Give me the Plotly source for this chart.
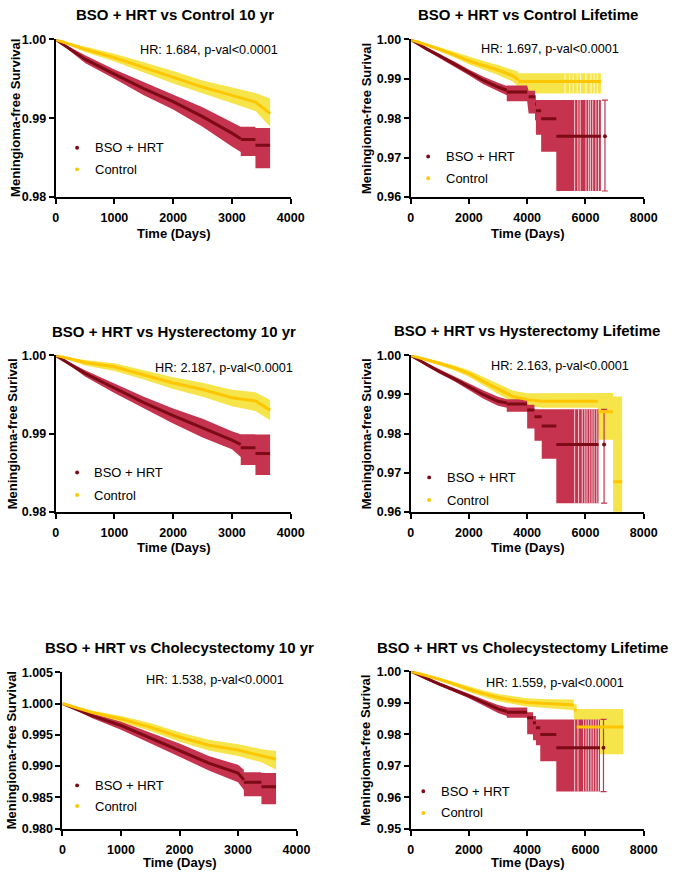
import plotly.graph_objects as go

W, H = 685, 878
FONT = "Liberation Sans, Arial, Helvetica, sans-serif"

# ---------------- text ----------------
titles = ["BSO + HRT vs Control 10 yr", "BSO + HRT vs Control Lifetime",
          "BSO + HRT vs Hysterectomy 10 yr", "BSO + HRT vs Hysterectomy Lifetime",
          "BSO + HRT vs Cholecystectomy 10 yr", "BSO + HRT vs Cholecystectomy Lifetime"]
hr_labels = ["HR: 1.684, p-val<0.0001", "HR: 1.697, p-val<0.0001",
             "HR: 2.187, p-val<0.0001", "HR: 2.163, p-val<0.0001",
             "HR: 1.538, p-val<0.0001", "HR: 1.559, p-val<0.0001"]
y_titles = ["Meningioma-free Survival", "Meningioma-free Surival",
            "Meningioma-free Surival", "Meningioma-free Surival",
            "Meningioma-free Survival", "Meningioma-free Surival"]
x_title = "Time (Days)"
group_names = ["BSO + HRT", "Control"]

x_ranges = [[0, 4000], [0, 8000], [0, 4000], [0, 8000], [0, 4000], [0, 8000]]
x_dticks = [1000, 2000, 1000, 2000, 1000, 2000]
y_ranges = [[0.98, 1.0], [0.96, 1.0], [0.98, 1.0], [0.96, 1.0], [0.98, 1.005], [0.95, 1.0]]
y_dticks = [0.01, 0.01, 0.01, 0.01, 0.005, 0.01]
y_formats = [".2f", ".2f", ".2f", ".2f", ".3f", ".2f"]

# ---------------- data ----------------
# Panel 1: Control 10 yr
p1_bso_t = [0, 500, 1000, 1500, 2000, 2500, 3000, 3150]
p1_bso_s = [1.0, 0.9975, 0.9956, 0.99375, 0.9921, 0.9902, 0.9881, 0.9874]
p1_bso_lo = [1.0, 0.9970, 0.9950, 0.9929, 0.9911, 0.9889, 0.9864, 0.9857]
p1_bso_hi = [1.0, 0.9980, 0.9962, 0.9946, 0.9930, 0.9914, 0.9895, 0.9890]
p1_bso_st0 = [3150, 3400]
p1_bso_st1 = [3400, 3650]
p1_bso_ss = [0.9873, 0.98655]
p1_bso_slo = [0.9852, 0.98365]
p1_bso_shi = [0.9889, 0.98875]
p1_ctl_t = [0, 500, 1000, 1500, 2000, 2500, 3000, 3400, 3650]
p1_ctl_s = [1.0, 0.99875, 0.9977, 0.99645, 0.9952, 0.99395, 0.9929, 0.99205, 0.9906]
p1_ctl_lo = [1.0, 0.9984, 0.9972, 0.9958, 0.9944, 0.9931, 0.9919, 0.9909, 0.9889]
p1_ctl_hi = [1.0, 0.9991, 0.9982, 0.9971, 0.9960, 0.9948, 0.9939, 0.9932, 0.9925]

# Panel 2: Control Lifetime
p2_bso_t = [0, 500, 1000, 1500, 2000, 2500, 3000, 3300]
p2_bso_s = [1.0, 0.9978, 0.99583, 0.9938, 0.99167, 0.98958, 0.98792, 0.9871]
p2_bso_lo = [1.0, 0.9974, 0.9953, 0.9931, 0.9909, 0.9886, 0.9868, 0.9858]
p2_bso_hi = [1.0, 0.9982, 0.9963, 0.9944, 0.9924, 0.9905, 0.9890, 0.9882]
p2_bso_st0 = [3300, 4050, 4270, 4300, 4480, 5000]
p2_bso_st1 = [4000, 4270, 4300, 4480, 5000, 6530]
p2_bso_ss = [0.98667, 0.98542, 0.9836, 0.98192, 0.97983, 0.97542]
p2_bso_slo = [0.9843, 0.9812, 0.9795, 0.9758, 0.9715, 0.9615]
p2_bso_shi = [0.9883, 0.9870, 0.9858, 0.9846, 0.9846, 0.9846]
p2_bso_cens = [5630, 5740, 5820, 6020, 6110, 6170, 6250, 6360, 6450]
p2_bso_end = [6670, 0.97542, 0.9615, 0.9846]
p2_ctl_t = [0, 500, 1000, 1500, 2000, 2500, 3000, 3500, 3700]
p2_ctl_s = [1.0, 0.9988, 0.9975, 0.9961, 0.99458, 0.9934, 0.99225, 0.99083, 0.9897]
p2_ctl_lo = [1.0, 0.9984, 0.9970, 0.9954, 0.9937, 0.9923, 0.9910, 0.9893, 0.9880]
p2_ctl_hi = [1.0, 0.9991, 0.9980, 0.9968, 0.9955, 0.9945, 0.9935, 0.9924, 0.9918]
p2_ctl_st0 = [3700]
p2_ctl_st1 = [6530]
p2_ctl_ss = [0.98933]
p2_ctl_slo = [0.98625]
p2_ctl_shi = [0.99142]
p2_ctl_cens = [5300, 5460, 5580, 5720, 5830, 6020, 6190, 6300, 6410]

# Panel 3: Hysterectomy 10 yr
p3_bso_t = [0, 500, 1000, 1500, 2000, 2500, 3000, 3150]
p3_bso_s = [1.0, 0.9977, 0.99583, 0.99396, 0.99229, 0.99075, 0.98917, 0.9886]
p3_bso_lo = [1.0, 0.9973, 0.9952, 0.9932, 0.9913, 0.9895, 0.9880, 0.9870]
p3_bso_hi = [1.0, 0.9981, 0.9964, 0.9947, 0.9932, 0.9919, 0.9903, 0.9899]
p3_bso_st0 = [3150, 3400]
p3_bso_st1 = [3400, 3650]
p3_bso_ss = [0.9882, 0.98745]
p3_bso_slo = [0.9860, 0.98471]
p3_bso_shi = [0.9899, 0.98987]
p3_ctl_t = [0, 500, 1000, 1500, 2000, 2500, 3000, 3400, 3650]
p3_ctl_s = [1.0, 0.99908, 0.99854, 0.9975, 0.99646, 0.99563, 0.99458, 0.99417, 0.9930]
p3_ctl_lo = [1.0, 0.9987, 0.9980, 0.9969, 0.9957, 0.9947, 0.9935, 0.9929, 0.9917]
p3_ctl_hi = [1.0, 0.9994, 0.9990, 0.9981, 0.9972, 0.9965, 0.9956, 0.9953, 0.9943]

# Panel 4: Hysterectomy Lifetime
p4_bso_t = [0, 500, 1000, 1500, 2000, 2500, 3000, 3300]
p4_bso_s = [1.0, 0.9978, 0.99581, 0.9940, 0.99203, 0.98994, 0.98826, 0.9878]
p4_bso_lo = [1.0, 0.9974, 0.9953, 0.9934, 0.9912, 0.9889, 0.9871, 0.9866]
p4_bso_hi = [1.0, 0.9982, 0.9963, 0.9946, 0.9928, 0.9910, 0.9894, 0.9888]
p4_bso_st0 = [3300, 4000, 4250, 4500, 5000]
p4_bso_st1 = [4000, 4250, 4500, 5000, 6450]
p4_bso_ss = [0.98759, 0.9860, 0.98432, 0.98197, 0.97719]
p4_bso_slo = [0.9856, 0.9813, 0.9782, 0.9736, 0.9622]
p4_bso_shi = [0.9888, 0.9874, 0.9862, 0.9862, 0.9862]
p4_bso_cens = [5630, 5765, 5890, 5980, 6055, 6145, 6225, 6300, 6390]
p4_bso_end = [6640, 0.97719, 0.9622, 0.9862]
p4_ctl_t = [0, 500, 1000, 1500, 2000, 2500, 3000, 3500, 4000, 4500]
p4_ctl_s = [1.0, 0.9990, 0.9979, 0.9968, 0.99539, 0.99329, 0.99136, 0.98952, 0.98868, 0.98826]
p4_ctl_lo = [1.0, 0.9986, 0.9974, 0.9961, 0.9945, 0.9922, 0.9901, 0.9881, 0.9871, 0.9866]
p4_ctl_hi = [1.0, 0.9993, 0.9984, 0.9974, 0.9962, 0.9944, 0.9926, 0.9910, 0.9903, 0.9903]
p4_ctl_st0 = [4500, 6450, 6950]
p4_ctl_st1 = [6420, 6950, 7260]
p4_ctl_ss = [0.98826, 0.98558, 0.96771]
p4_ctl_slo = [0.9866, 0.97845, 0.955]
p4_ctl_shi = [0.9904, 0.9904, 0.9895]

# Panel 5: Cholecystectomy 10 yr
p5_bso_t = [0, 500, 1000, 1500, 2000, 2500, 3000, 3100]
p5_bso_s = [1.0, 0.99806, 0.99649, 0.9945, 0.99256, 0.99046, 0.98889, 0.9878]
p5_bso_lo = [1.0, 0.9977, 0.9958, 0.9937, 0.9915, 0.9893, 0.9874, 0.9862]
p5_bso_hi = [1.0, 0.9984, 0.9971, 0.9953, 0.9936, 0.9916, 0.9902, 0.9894]
p5_bso_st0 = [3100, 3400]
p5_bso_st1 = [3400, 3650]
p5_bso_ss = [0.98742, 0.98669]
p5_bso_slo = [0.9852, 0.9839]
p5_bso_shi = [0.9890, 0.98889]
p5_ctl_t = [0, 500, 1000, 1500, 2000, 2500, 3000, 3400, 3650]
p5_ctl_s = [1.0, 0.99858, 0.99754, 0.99623, 0.99465, 0.99334, 0.99256, 0.99167, 0.99109]
p5_ctl_lo = [1.0, 0.9982, 0.9970, 0.9956, 0.9939, 0.9925, 0.9916, 0.9906, 0.9894]
p5_ctl_hi = [1.0, 0.9989, 0.9980, 0.9969, 0.9954, 0.9942, 0.9935, 0.9927, 0.9924]

# Panel 6: Cholecystectomy Lifetime
p6_bso_t = [0, 500, 1000, 1500, 2000, 2500, 3000, 3300]
p6_bso_s = [1.0, 0.9978, 0.99583, 0.9940, 0.99219, 0.9901, 0.98802, 0.9872]
p6_bso_lo = [1.0, 0.9974, 0.9953, 0.9934, 0.9914, 0.9891, 0.9867, 0.9858]
p6_bso_hi = [1.0, 0.9982, 0.9963, 0.9946, 0.9929, 0.9911, 0.9893, 0.9886]
p6_bso_st0 = [3300, 4000, 4200, 4300, 4450, 5000]
p6_bso_st1 = [4000, 4200, 4300, 4450, 5000, 6500]
p6_bso_ss = [0.98698, 0.98521, 0.98365, 0.98208, 0.97990, 0.97573]
p6_bso_slo = [0.9852, 0.9800, 0.9781, 0.9765, 0.9714, 0.9618]
p6_bso_shi = [0.9885, 0.9870, 0.9858, 0.9847, 0.9847, 0.9847]
p6_bso_cens = [5630, 5745, 5935, 6020, 6100, 6190, 6270, 6360, 6445]
p6_bso_end = [6620, 0.97573, 0.9618, 0.9847]
p6_ctl_t = [0, 500, 1000, 1500, 2000, 2500, 3000, 3500, 4000, 4500, 5000, 5600]
p6_ctl_s = [1.0, 0.9988, 0.9974, 0.9959, 0.99427, 0.9929, 0.99167, 0.9908, 0.9901, 0.9898, 0.98958, 0.9893]
p6_ctl_lo = [1.0, 0.9985, 0.9969, 0.9952, 0.9934, 0.9919, 0.9905, 0.9896, 0.9888, 0.9884, 0.9881, 0.9876]
p6_ctl_hi = [1.0, 0.9991, 0.9979, 0.9966, 0.9951, 0.9939, 0.9928, 0.9920, 0.9914, 0.9912, 0.9911, 0.9910]
p6_ctl_st0 = [5600, 5700]
p6_ctl_st1 = [5700, 7300]
p6_ctl_ss = [0.98771, 0.98229]
p6_ctl_slo = [0.9840, 0.97365]
p6_ctl_shi = [0.9895, 0.9880]

E = []
panels = [
    dict(bso=(p1_bso_t, p1_bso_s, p1_bso_lo, p1_bso_hi, p1_bso_st0, p1_bso_st1, p1_bso_ss, p1_bso_slo, p1_bso_shi, E, None),
         ctl=(p1_ctl_t, p1_ctl_s, p1_ctl_lo, p1_ctl_hi, E, E, E, E, E, E, None)),
    dict(bso=(p2_bso_t, p2_bso_s, p2_bso_lo, p2_bso_hi, p2_bso_st0, p2_bso_st1, p2_bso_ss, p2_bso_slo, p2_bso_shi, p2_bso_cens, p2_bso_end),
         ctl=(p2_ctl_t, p2_ctl_s, p2_ctl_lo, p2_ctl_hi, p2_ctl_st0, p2_ctl_st1, p2_ctl_ss, p2_ctl_slo, p2_ctl_shi, p2_ctl_cens, None)),
    dict(bso=(p3_bso_t, p3_bso_s, p3_bso_lo, p3_bso_hi, p3_bso_st0, p3_bso_st1, p3_bso_ss, p3_bso_slo, p3_bso_shi, E, None),
         ctl=(p3_ctl_t, p3_ctl_s, p3_ctl_lo, p3_ctl_hi, E, E, E, E, E, E, None)),
    dict(bso=(p4_bso_t, p4_bso_s, p4_bso_lo, p4_bso_hi, p4_bso_st0, p4_bso_st1, p4_bso_ss, p4_bso_slo, p4_bso_shi, p4_bso_cens, p4_bso_end),
         ctl=(p4_ctl_t, p4_ctl_s, p4_ctl_lo, p4_ctl_hi, p4_ctl_st0, p4_ctl_st1, p4_ctl_ss, p4_ctl_slo, p4_ctl_shi, E, None)),
    dict(bso=(p5_bso_t, p5_bso_s, p5_bso_lo, p5_bso_hi, p5_bso_st0, p5_bso_st1, p5_bso_ss, p5_bso_slo, p5_bso_shi, E, None),
         ctl=(p5_ctl_t, p5_ctl_s, p5_ctl_lo, p5_ctl_hi, E, E, E, E, E, E, None)),
    dict(bso=(p6_bso_t, p6_bso_s, p6_bso_lo, p6_bso_hi, p6_bso_st0, p6_bso_st1, p6_bso_ss, p6_bso_slo, p6_bso_shi, p6_bso_cens, p6_bso_end),
         ctl=(p6_ctl_t, p6_ctl_s, p6_ctl_lo, p6_ctl_hi, p6_ctl_st0, p6_ctl_st1, p6_ctl_ss, p6_ctl_slo, p6_ctl_shi, E, None)),
]

# ---------------- layout geometry (pixels) ----------------
boxes = [(54, 295, 33, 193), (418, 657, 33, 193), (54, 295, 354, 513),
         (418, 657, 354, 513), (61, 301, 676, 835), (418, 657, 675, 835)]
title_pos = [(176, 8), (538, 8), (175, 330), (537, 329), (181, 651), (533, 651)]
hr_pos = [(211, 44), (561, 43), (227, 367), (571, 365), (217, 684), (566, 687)]
legend_pos = [(76, 92, 143, 165), (436, 452, 152, 174), (76, 91, 473, 496),
              (437, 453, 478, 501), (76, 92, 791, 812), (431, 447, 797, 819)]
ytitle_x = [12, 372, 10, 373, 9, 372]
xtitle_y = [230, 230, 549, 549, 869, 869]

BSO_LINE = "#7C0B16"
BSO_BAND = "#C5334E"
CTL_LINE = "#FFC600"
CTL_BAND = "#F6E54A"


def fx(p):
    return p / W


def fy(p):
    return 1 - p / H


def curve_xy(t, s, st0, st1, ss):
    xs, ys = list(t), list(s)
    for a, b, v in zip(st0, st1, ss):
        xs += [None, a, b]
        ys += [None, v, v]
    return xs, ys


def band_xy(t, lo, hi, st0, st1, slo, shi):
    ux, uy, lx, ly = list(t), list(hi), list(t), list(lo)
    for a, b, l, h in zip(st0, st1, slo, shi):
        ux += [a, b]
        uy += [h, h]
        lx += [a, b]
        ly += [l, l]
    return ux + lx[::-1], uy + ly[::-1]


def censor_xy(cens, st0, st1, slo, shi):
    xs, ys = [], []
    for c in cens:
        for a, b, l, h in zip(st0, st1, slo, shi):
            if a <= c <= b:
                xs += [c, c, None]
                ys += [l, h, None]
                break
    return xs, ys


fig = go.Figure()
layout = dict(width=W, height=H, margin=dict(l=0, r=0, t=0, b=0),
              paper_bgcolor="white", plot_bgcolor="white", showlegend=False,
              font=dict(family=FONT, color="black"))
annotations = []
shapes = []

for i, p in enumerate(panels):
    sfx = "" if i == 0 else str(i + 1)
    xa, ya = "x" + sfx, "y" + sfx
    x0, x1, y0, y1 = boxes[i]

    # confidence bands
    for key, col in (("ctl", CTL_BAND), ("bso", BSO_BAND)):
        t, s, lo, hi, st0, st1, ss, slo, shi, cens, end = p[key]
        bx, by = band_xy(t, lo, hi, st0, st1, slo, shi)
        fig.add_trace(go.Scatter(x=bx, y=by, fill="toself", fillcolor=col, mode="lines",
                                 line=dict(width=0), hoverinfo="skip", xaxis=xa, yaxis=ya))
    # censoring ticks inside bands
    for key in ("ctl", "bso"):
        t, s, lo, hi, st0, st1, ss, slo, shi, cens, end = p[key]
        if cens:
            cx, cy = censor_xy(cens, st0, st1, slo, shi)
            fig.add_trace(go.Scatter(x=cx, y=cy, mode="lines",
                                     line=dict(color="rgba(255,255,255,0.75)", width=1),
                                     hoverinfo="skip", xaxis=xa, yaxis=ya))
    # survival curves
    for key, col in (("bso", BSO_LINE), ("ctl", CTL_LINE)):
        t, s, lo, hi, st0, st1, ss, slo, shi, cens, end = p[key]
        cxs, cys = curve_xy(t, s, st0, st1, ss)
        fig.add_trace(go.Scatter(x=cxs, y=cys, mode="lines", line=dict(color=col, width=3),
                                 hoverinfo="skip", xaxis=xa, yaxis=ya))
        if end is not None:
            et, es, el, eh = end
            fig.add_trace(go.Scatter(x=[et], y=[es], mode="markers",
                                     marker=dict(color=col, size=4, symbol="circle"),
                                     error_y=dict(type="data", symmetric=False, array=[eh - es],
                                                  arrayminus=[es - el], color=BSO_BAND,
                                                  thickness=1.2, width=3),
                                     hoverinfo="skip", xaxis=xa, yaxis=ya))

    axis_common = dict(showgrid=False, zeroline=False, showline=True, linecolor="black",
                       linewidth=2, ticks="outside", ticklen=5, tickwidth=2, tickcolor="black",
                       tickfont=dict(family=FONT, size=12.5, color="black", weight="bold"))
    layout["xaxis" + sfx] = dict(axis_common, domain=[fx(x0), fx(x1)], anchor=ya,
                                 range=x_ranges[i], dtick=x_dticks[i], tick0=0,
                                 ticklabelstandoff=3)
    layout["yaxis" + sfx] = dict(axis_common, domain=[fy(y1), fy(y0)], anchor=xa,
                                 range=y_ranges[i], dtick=y_dticks[i], tick0=y_ranges[i][0],
                                 tickformat=y_formats[i])

    tx, ty = title_pos[i]
    annotations.append(dict(text=titles[i], x=fx(tx), y=fy(ty), xref="paper", yref="paper",
                            xanchor="center", yanchor="middle", showarrow=False,
                            font=dict(family=FONT, size=15, color="black", weight="bold")))
    hx, hy = hr_pos[i]
    annotations.append(dict(text=hr_labels[i], x=fx(hx), y=fy(hy), xref="paper", yref="paper",
                            xanchor="center", yanchor="middle", showarrow=False,
                            font=dict(family=FONT, size=12.7, color="black")))
    annotations.append(dict(text=y_titles[i], x=fx(ytitle_x[i]), y=fy((y0 + y1) / 2),
                            xref="paper", yref="paper", textangle=-90,
                            xanchor="center", yanchor="middle", showarrow=False,
                            font=dict(family=FONT, size=13, color="black", weight="bold")))
    annotations.append(dict(text=x_title, x=fx((x0 + x1) / 2), y=fy(xtitle_y[i]),
                            xref="paper", yref="paper", xanchor="center", yanchor="middle",
                            showarrow=False,
                            font=dict(family=FONT, size=13, color="black", weight="bold")))
    dx, txl, ly1, ly2 = legend_pos[i]
    for name, col, ly in ((group_names[0], BSO_LINE, ly1), (group_names[1], CTL_LINE, ly2)):
        shapes.append(dict(type="circle", xref="paper", yref="paper",
                           x0=fx(dx - 2), x1=fx(dx + 2), y0=fy(ly + 2), y1=fy(ly - 2),
                           fillcolor=col, line=dict(width=0)))
        annotations.append(dict(text=name, x=fx(txl), y=fy(ly), xref="paper", yref="paper",
                                xanchor="left", yanchor="middle", showarrow=False,
                                font=dict(family=FONT, size=13, color="black")))

layout["annotations"] = annotations
layout["shapes"] = shapes
fig.update_layout(**layout)
fig.write_html("out.html")
